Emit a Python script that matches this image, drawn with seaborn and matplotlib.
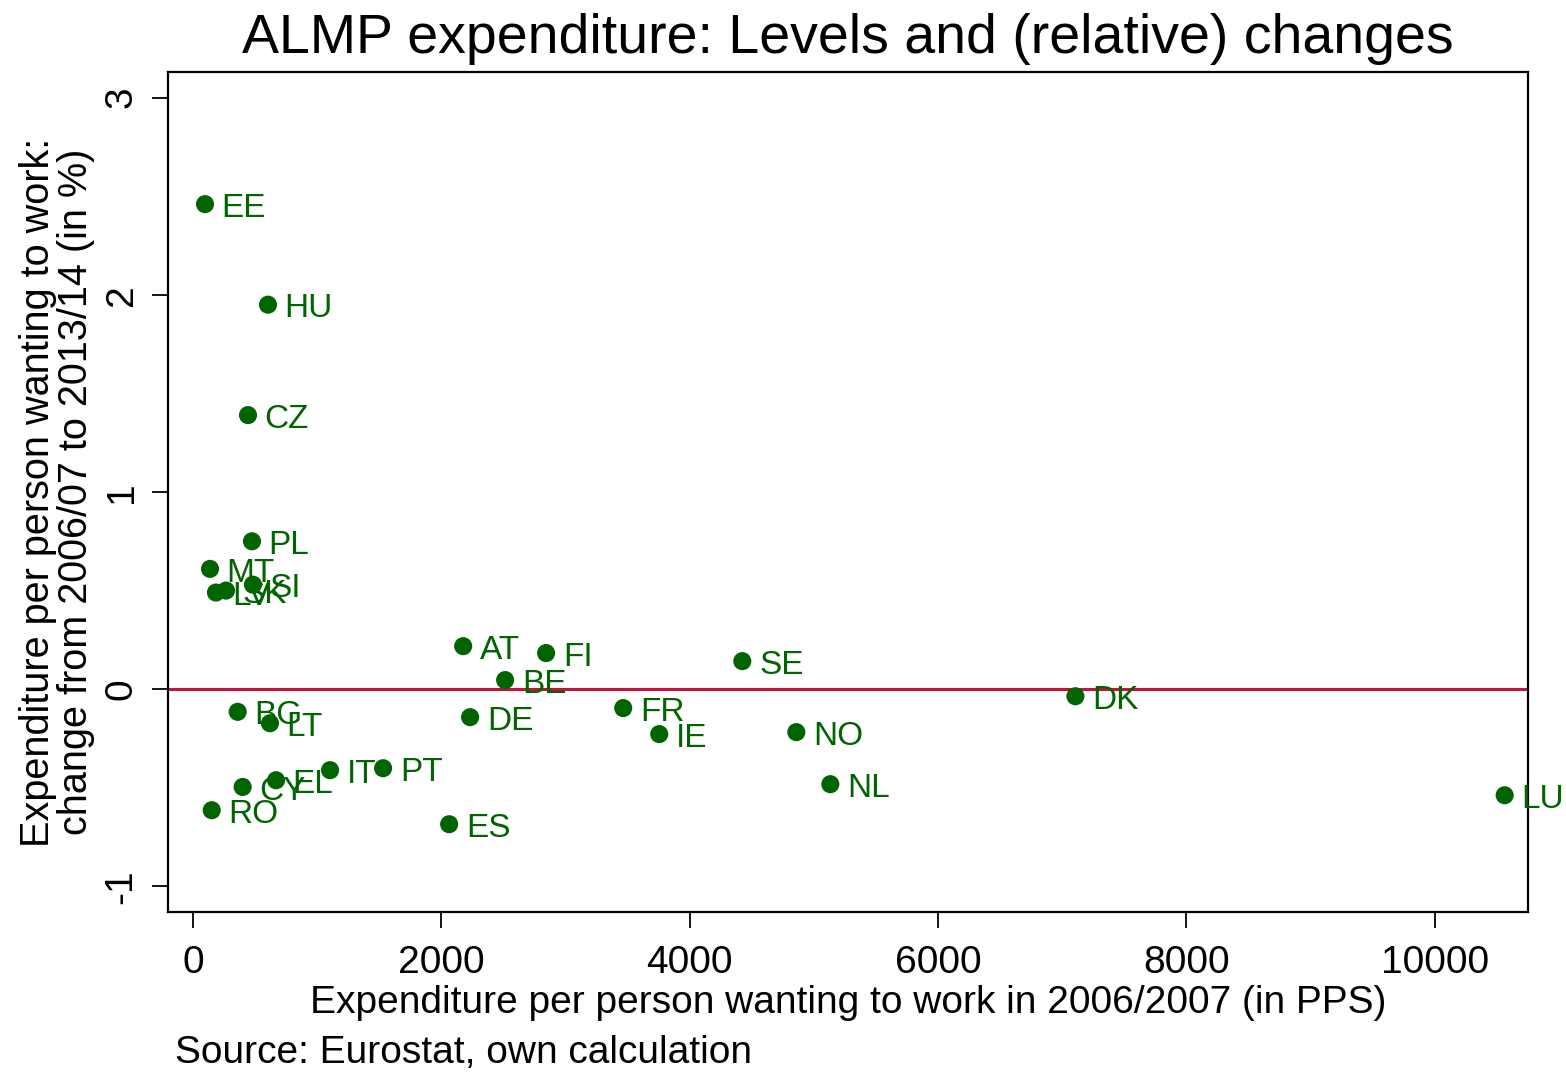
import matplotlib
matplotlib.use("Agg")
import matplotlib.pyplot as plt
import seaborn as sns
import pandas as pd

# ALMP expenditure per person wanting to work (PPS, 2006/07) and relative change to 2013/14
countries = ["EE", "HU", "CZ", "PL", "MT", "LV", "SK", "SI", "BG", "LT", "CY", "EL",
             "IT", "PT", "RO", "ES", "AT", "FI", "BE", "DE", "SE", "FR", "IE", "NO",
             "NL", "DK", "LU"]
level_2006 = [97, 604, 443, 475, 137, 185, 266, 483, 360, 620, 400, 669,
              1104, 1531, 151, 2063, 2176, 2844, 2514, 2232, 4424, 3465, 3755, 4859,
              5133, 7107, 10564]
change_pct = [2.46, 1.95, 1.39, 0.75, 0.61, 0.49, 0.50, 0.53, -0.115, -0.173, -0.496, -0.462,
              -0.411, -0.401, -0.614, -0.685, 0.218, 0.183, 0.046, -0.142, 0.142, -0.096, -0.228, -0.218,
              -0.482, -0.036, -0.538]

df = pd.DataFrame({"country": countries, "level": level_2006, "change": change_pct})

sns.set_style("ticks")
plt.rcParams["font.family"] = ["Liberation Sans", "DejaVu Sans"]
plt.rcParams["axes.unicode_minus"] = False
plt.rcParams["text.color"] = "black"
plt.rcParams["axes.labelcolor"] = "black"
plt.rcParams["xtick.color"] = "black"
plt.rcParams["ytick.color"] = "black"

fig = plt.figure(figsize=(15.66, 10.72), dpi=100)
ax = fig.add_axes([0.1073, 0.1493, 0.8682, 0.7835])

ax.axhline(0, color="#C8103C", lw=2.2, zorder=1)
sns.scatterplot(data=df, x="level", y="change", ax=ax, color="#006400",
                s=170, edgecolor="none", zorder=3, legend=False)

for c, x, y in zip(countries, level_2006, change_pct):
    ax.annotate(c, (x, y), xytext=(12, -3), textcoords="offset points",
                va="center", ha="left", fontsize=24, color="#006400", zorder=4)

ax.set_xlim(-201, 10749)
ax.set_ylim(-1.13, 3.13)
ax.set_xticks([0, 2000, 4000, 6000, 8000, 10000])
ax.set_yticks([-1, 0, 1, 2, 3])
ax.tick_params(axis="both", labelsize=28, length=11.5, width=1.3, color="black",
               labelcolor="black")
ax.tick_params(axis="x", pad=12)
ax.tick_params(axis="y", pad=9)
for lab in ax.get_yticklabels():
    lab.set_rotation(90)
    lab.set_va("center")

for sp in ax.spines.values():
    sp.set_visible(True)
    sp.set_linewidth(1.6)
    sp.set_color("black")

ax.set_xlabel("Expenditure per person wanting to work in 2006/2007 (in PPS)",
              fontsize=28, labelpad=3, color="black")
ax.set_ylabel("Expenditure per person wanting to work:\nchange from 2006/07 to 2013/14 (in %)",
              fontsize=28.5, labelpad=6, linespacing=1.0, color="black")
ax.set_title("ALMP expenditure: Levels and (relative) changes", fontsize=40, pad=14,
             color="black")

fig.text(175 / 1566, 1 - 1053 / 1072, "Source: Eurostat, own calculation",
         fontsize=28, va="center", ha="left", color="black")

fig.savefig("out.png", dpi=100, facecolor="white")
